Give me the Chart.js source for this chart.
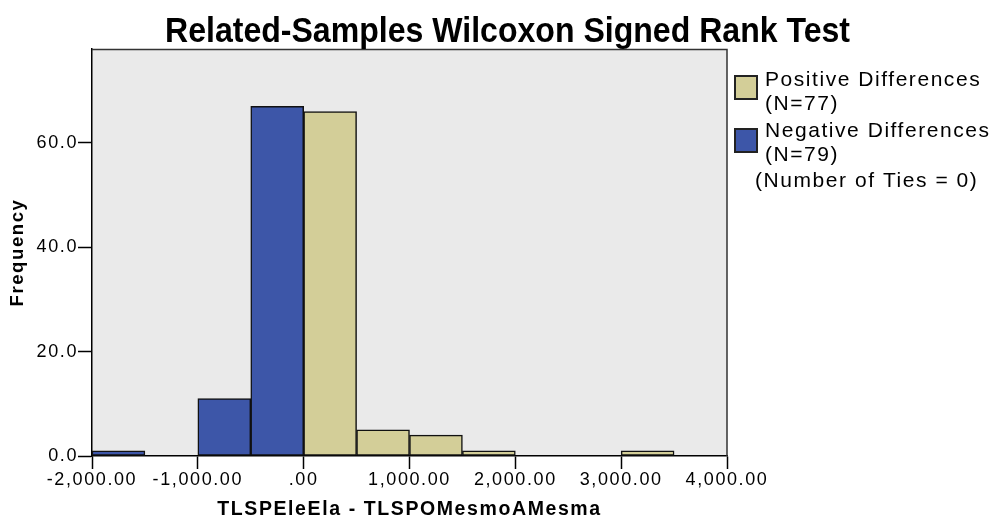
<!DOCTYPE html>
<html><head><meta charset="utf-8">
<script src="https://cdn.jsdelivr.net/npm/chart.js@4.4.1/dist/chart.umd.min.js"></script>
<style>html,body{margin:0;padding:0;background:#fff;}canvas{display:block;}</style>
</head><body>
<canvas id="c" width="993" height="519"></canvas>
<script>
const chartTitle = 'Related-Samples Wilcoxon Signed Rank Test';
const xTitle = 'TLSPEleEla - TLSPOMesmoAMesma';
const yTitle = 'Frequency';
const binCenters = [-1750, -1250, -750, -250, 250, 750, 1250, 1750, 2250, 2750, 3250, 3750];
const negativeCounts = [1, null, 11, 67, null, null, null, null, null, null, null, null];
const positiveCounts = [null, null, null, null, 66, 5, 4, 1, null, null, 1, null];
const xTickValues = [-2000, -1000, 0, 1000, 2000, 3000, 4000];
const yTickValues = [0, 20, 40, 60];
const positiveLabel = ['Positive Differences', '(N=77)'];
const negativeLabel = ['Negative Differences', '(N=79)'];
const tiesNote = '(Number of Ties = 0)';

const positiveColor = '#D3CE98';
const negativeColor = '#3D56A8';

function fmtX(v) {
  let s = Number(v).toLocaleString('en-US', {minimumFractionDigits: 2, maximumFractionDigits: 2});
  return s.replace(/^(-?)0\./, '$1.');
}

const decor = {
  id: 'decor',
  beforeDraw(chart) {
    const {ctx, chartArea: a} = chart;
    ctx.save();
    ctx.fillStyle = '#EAEAEA';
    ctx.fillRect(a.left, a.top, a.right - a.left, a.bottom - a.top);
    ctx.restore();
    ctx.letterSpacing = '1.6px';
  },
  afterDraw(chart) {
    const {ctx, chartArea: a} = chart;
    ctx.save();
    ctx.letterSpacing = '0px';
    // plot frame (top and right)
    ctx.strokeStyle = '#333';
    ctx.lineWidth = 1.5;
    ctx.beginPath();
    ctx.moveTo(a.left, a.top + 0.5);
    ctx.lineTo(a.right, a.top + 0.5);
    ctx.lineTo(a.right, a.bottom);
    ctx.stroke();
    // title
    ctx.fillStyle = '#000';
    ctx.font = 'bold 35px "Liberation Sans", Arial, sans-serif';
    ctx.textBaseline = 'alphabetic';
    ctx.textAlign = 'left';
    const w = ctx.measureText(chartTitle).width;
    const sx = 685 / w;
    ctx.save();
    ctx.translate(507.5 - 685 / 2, 42);
    ctx.scale(sx, 1);
    ctx.fillText(chartTitle, 0, 0);
    ctx.restore();
    // legend
    const items = [
      {lines: positiveLabel, color: chart.data.datasets[1].backgroundColor, boxY: 76, baselines: [86, 110]},
      {lines: negativeLabel, color: chart.data.datasets[0].backgroundColor, boxY: 129, baselines: [137, 161]}
    ];
    ctx.font = '21px "Liberation Sans", Arial, sans-serif';
    ctx.letterSpacing = '1.55px';
    items.forEach(it => {
      ctx.fillStyle = it.color;
      ctx.fillRect(735, it.boxY, 22, 23);
      ctx.strokeStyle = '#222';
      ctx.lineWidth = 2;
      ctx.strokeRect(735, it.boxY, 22, 23);
      ctx.fillStyle = '#000';
      it.lines.forEach((t, i) => ctx.fillText(t, 765, it.baselines[i]));
    });
    ctx.fillText(tiesNote, 755, 187);
    ctx.restore();
  }
};

new Chart(document.getElementById('c'), {
  type: 'bar',
  data: {
    datasets: [
      {
        label: negativeLabel.join(' '),
        data: binCenters.map((x, i) => ({x, y: negativeCounts[i]})),
        backgroundColor: negativeColor,
        borderColor: '#111',
        borderWidth: 1.5,
        borderSkipped: false,
        grouped: false,
        barPercentage: 1,
        categoryPercentage: 1
      },
      {
        label: positiveLabel.join(' '),
        data: binCenters.map((x, i) => ({x, y: positiveCounts[i]})),
        backgroundColor: positiveColor,
        borderColor: '#111',
        borderWidth: 1.5,
        borderSkipped: false,
        grouped: false,
        barPercentage: 1,
        categoryPercentage: 1
      }
    ]
  },
  options: {
    responsive: false,
    animation: false,
    events: [],
    layout: {padding: {left: 0, right: 266, top: 49, bottom: 0}},
    plugins: {legend: {display: false}, tooltip: {enabled: false}, title: {display: false}},
    scales: {
      x: {
        type: 'linear',
        min: -2000,
        max: 4000,
        offset: false,
        afterBuildTicks: ax => { ax.ticks = xTickValues.map(v => ({value: v})); },
        afterFit: ax => { ax.height = 63; },
        ticks: {
          callback: v => fmtX(v),
          color: '#000',
          font: {family: '"Liberation Sans", Arial, sans-serif', size: 18},
          padding: 0,
          maxRotation: 0,
          minRotation: 0,
          autoSkip: false
        },
        grid: {drawOnChartArea: false, drawTicks: true, tickLength: 13, tickColor: '#000', tickWidth: 1.5, offset: false},
        border: {display: true, color: '#000', width: 1.5},
        title: {
          display: true,
          text: xTitle,
          color: '#000',
          font: {family: '"Liberation Sans", Arial, sans-serif', size: 19.5, weight: 'bold', lineHeight: 1},
          padding: {top: 0, bottom: 0}
        }
      },
      y: {
        type: 'linear',
        min: 0,
        max: 78,
        afterBuildTicks: ax => { ax.ticks = yTickValues.map(v => ({value: v})); },
        afterFit: ax => { ax.width = 92; },
        ticks: {
          callback: v => Number(v).toFixed(1),
          color: '#000',
          font: {family: '"Liberation Sans", Arial, sans-serif', size: 18},
          padding: 0
        },
        grid: {drawOnChartArea: false, drawTicks: true, tickLength: 14, tickColor: '#000', tickWidth: 1.5},
        border: {display: true, color: '#000', width: 1.5},
        title: {
          display: true,
          text: yTitle,
          color: '#000',
          font: {family: '"Liberation Sans", Arial, sans-serif', size: 18.5, weight: 'bold', lineHeight: 1},
          padding: {top: 9, bottom: 0}
        }
      }
    }
  },
  plugins: [decor]
});
</script>
</body></html>
